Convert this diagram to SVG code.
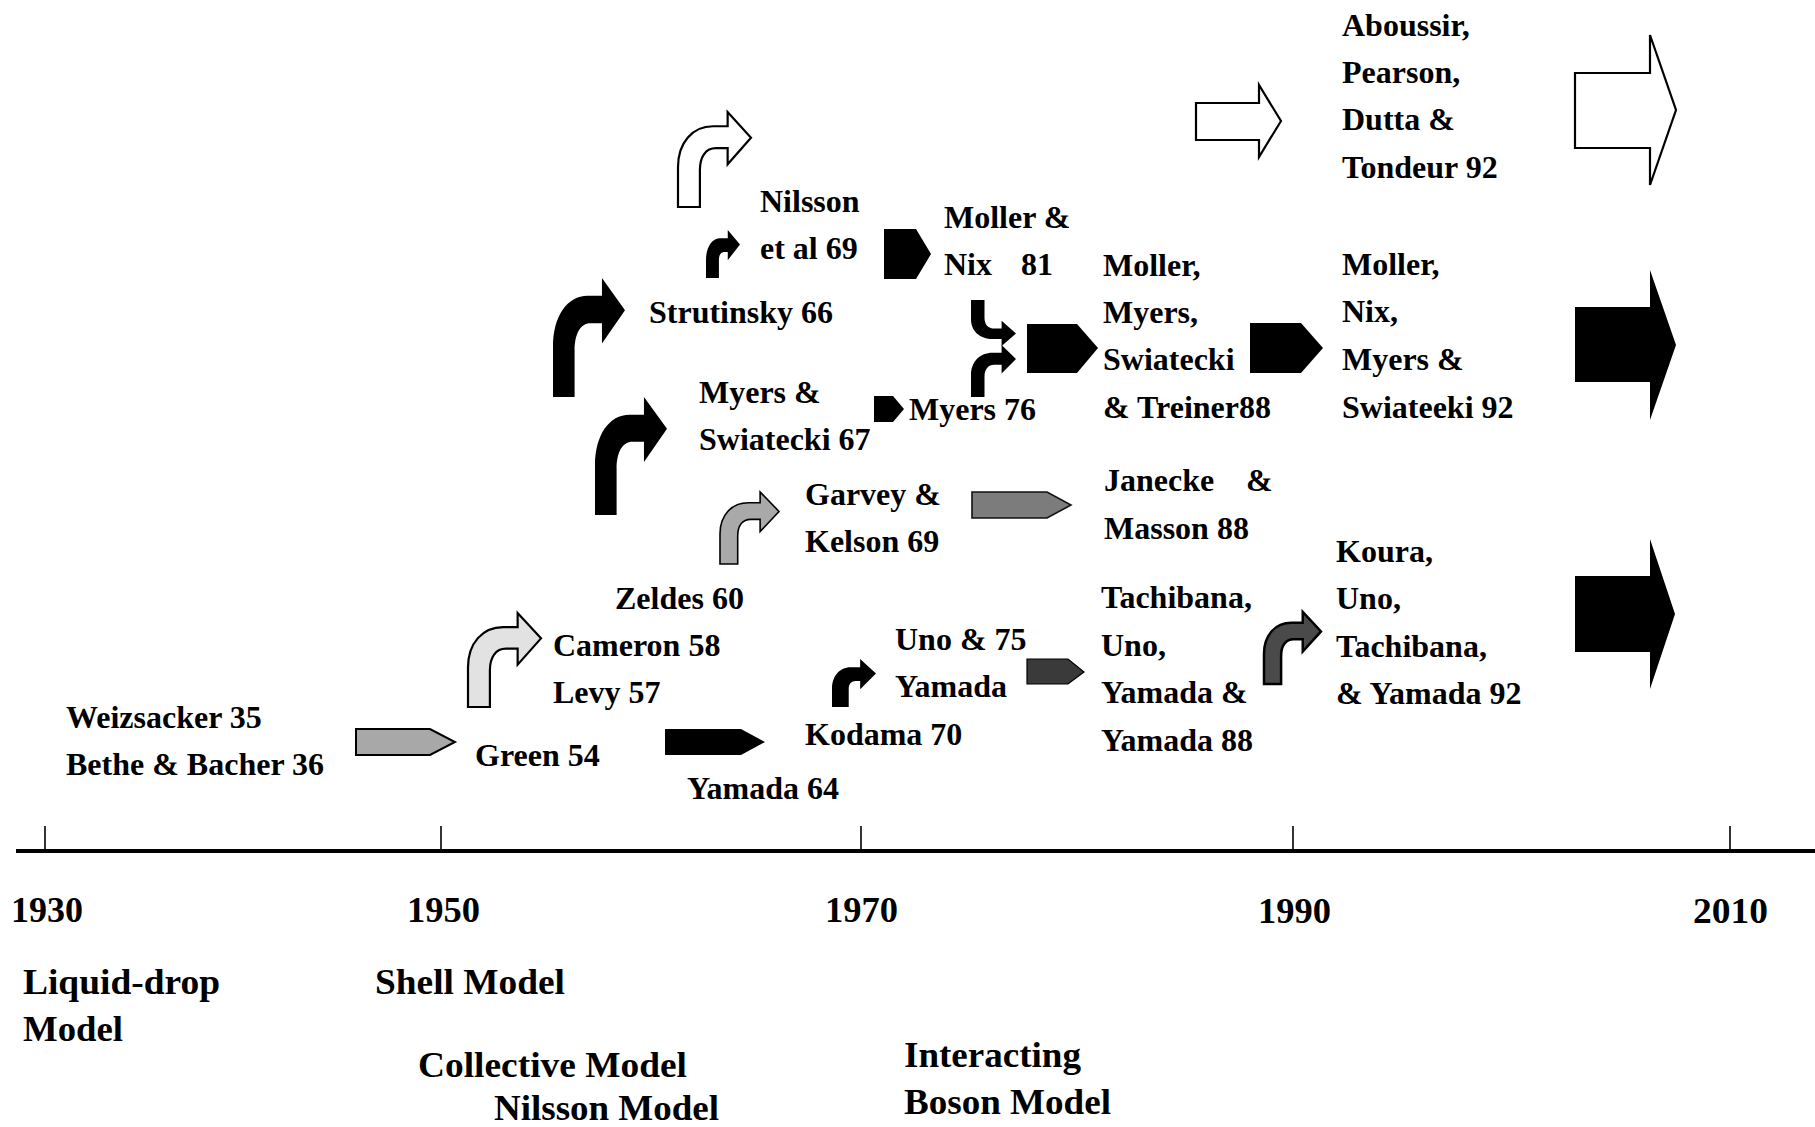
<svg xmlns="http://www.w3.org/2000/svg" xmlns:xlink="http://www.w3.org/1999/xlink" width="1815" height="1127" viewBox="0 0 1815 1127">
<style>
  text { font-family: "Liberation Serif", "Times New Roman", serif; font-weight: bold; fill: #000; }
  .lb { font-size: 32px; }
  .yr { font-size: 35px; }
  .md { font-size: 36px; }
  .blk { fill: #000; }
  .wht { fill: #fff; stroke: #000; stroke-width: 2.2; stroke-linejoin: miter; }
  .axis { stroke: #000; stroke-width: 4; fill: none; }
  .tick { stroke: #000; stroke-width: 1.6; }
</style>
<defs>
  <path id="bend" vector-effect="non-scaling-stroke" d="M0,100 L0,58 C0,32 20,15 48,15 L68,15 L68,0 L100,27 L68,55 L68,38 L52,38 C38,38 30,47 30,61 L30,100 Z"/>
  <path id="bend2" vector-effect="non-scaling-stroke" d="M0,100 L0,62 C0,35 18,17 42,17 L64,17 L64,0 L100,30 L64,63 L64,46 L54,46 C44,46 38,52 38,62 L38,100 Z"/>
</defs>
<rect width="1815" height="1127" fill="#fff"/>

<g id="axis">
  <line class="axis" x1="16" y1="851" x2="1815" y2="851"/>
  <line class="tick" x1="45" y1="826" x2="45" y2="851"/>
  <line class="tick" x1="441" y1="826" x2="441" y2="851"/>
  <line class="tick" x1="861" y1="826" x2="861" y2="851"/>
  <line class="tick" x1="1293" y1="826" x2="1293" y2="851"/>
  <line class="tick" x1="1730" y1="826" x2="1730" y2="851"/>
  <text class="yr" x="11" y="922" textLength="72" lengthAdjust="spacingAndGlyphs">1930</text>
  <text class="yr" x="407" y="922" textLength="73" lengthAdjust="spacingAndGlyphs">1950</text>
  <text class="yr" x="825" y="922" textLength="73" lengthAdjust="spacingAndGlyphs">1970</text>
  <text class="yr" x="1258" y="923" textLength="73" lengthAdjust="spacingAndGlyphs">1990</text>
  <text class="yr" x="1693" y="923" textLength="75" lengthAdjust="spacingAndGlyphs">2010</text>
</g>

<g id="models">
  <text class="md" x="23" y="994" textLength="197" lengthAdjust="spacingAndGlyphs">Liquid-drop</text>
  <text class="md" x="23" y="1041" textLength="100" lengthAdjust="spacingAndGlyphs">Model</text>
  <text class="md" x="375" y="994" textLength="190" lengthAdjust="spacingAndGlyphs">Shell Model</text>
  <text class="md" x="418" y="1077" textLength="269" lengthAdjust="spacingAndGlyphs">Collective Model</text>
  <text class="md" x="494" y="1120" textLength="225" lengthAdjust="spacingAndGlyphs">Nilsson Model</text>
  <text class="md" x="904" y="1067" textLength="177" lengthAdjust="spacingAndGlyphs">Interacting</text>
  <text class="md" x="904" y="1114" textLength="207" lengthAdjust="spacingAndGlyphs">Boson Model</text>
</g>

<g id="node-weizsacker"><text class="lb" x="66" y="728">Weizsacker 35</text><text class="lb" x="66" y="775">Bethe &amp; Bacher 36</text></g>
<g id="node-green"><text class="lb" x="475" y="766">Green 54</text></g>
<g id="node-yamada64"><text class="lb" x="687" y="799">Yamada 64</text></g>
<g id="node-cameron"><text class="lb" x="553" y="656">Cameron 58</text><text class="lb" x="553" y="703">Levy 57</text></g>
<g id="node-zeldes"><text class="lb" x="615" y="609">Zeldes 60</text></g>
<g id="node-garvey"><text class="lb" x="805" y="505">Garvey &amp;</text><text class="lb" x="805" y="552">Kelson 69</text></g>
<g id="node-myersswiatecki"><text class="lb" x="699" y="403">Myers &amp;</text><text class="lb" x="699" y="450">Swiatecki 67</text></g>
<g id="node-strutinsky"><text class="lb" x="649" y="323">Strutinsky 66</text></g>
<g id="node-nilsson"><text class="lb" x="760" y="212">Nilsson</text><text class="lb" x="760" y="259">et al 69</text></g>
<g id="node-mollernix"><text class="lb" x="944" y="228">Moller &amp;</text><text class="lb" x="944" y="275">Nix</text><text class="lb" x="1021" y="275">81</text></g>
<g id="node-myers76"><text class="lb" x="909" y="420">Myers 76</text></g>
<g id="node-uno75"><text class="lb" x="895" y="650">Uno &amp; 75</text><text class="lb" x="895" y="697">Yamada</text></g>
<g id="node-kodama"><text class="lb" x="805" y="745">Kodama 70</text></g>
<g id="node-mmst88"><text class="lb" x="1103" y="276">Moller,</text><text class="lb" x="1103" y="323">Myers,</text><text class="lb" x="1103" y="370">Swiatecki</text><text class="lb" x="1103" y="418">&amp; Treiner88</text></g>
<g id="node-janecke"><text class="lb" x="1104" y="491">Janecke</text><text class="lb" x="1246" y="491">&amp;</text><text class="lb" x="1104" y="539">Masson 88</text></g>
<g id="node-tuyy88"><text class="lb" x="1101" y="608">Tachibana,</text><text class="lb" x="1101" y="656">Uno,</text><text class="lb" x="1101" y="703">Yamada &amp;</text><text class="lb" x="1101" y="751">Yamada 88</text></g>
<g id="node-apdt92"><text class="lb" x="1342" y="36">Aboussir,</text><text class="lb" x="1342" y="83">Pearson,</text><text class="lb" x="1342" y="130">Dutta &amp;</text><text class="lb" x="1342" y="178">Tondeur 92</text></g>
<g id="node-mnms92"><text class="lb" x="1342" y="275">Moller,</text><text class="lb" x="1342" y="322">Nix,</text><text class="lb" x="1342" y="370">Myers &amp;</text><text class="lb" x="1342" y="418">Swiateeki 92</text></g>
<g id="node-kuty92"><text class="lb" x="1336" y="562">Koura,</text><text class="lb" x="1336" y="609">Uno,</text><text class="lb" x="1336" y="657">Tachibana,</text><text class="lb" x="1336" y="704">&amp; Yamada 92</text></g>

<g id="connectors">
  <!-- bent arrows -->
  <use xlink:href="#bend" class="wht" transform="translate(678,112) scale(0.73,0.95)"/>
  <use xlink:href="#bend2" class="blk" transform="translate(706,230) scale(0.34,0.48)"/>
  <use xlink:href="#bend" class="blk" transform="translate(553,278) scale(0.72,1.19)"/>
  <use xlink:href="#bend" class="blk" transform="translate(595,397) scale(0.72,1.18)"/>
  <use xlink:href="#bend" fill="#a9a9a9" stroke="#000" stroke-width="1.6" transform="translate(720,492) scale(0.59,0.72)"/>
  <use xlink:href="#bend" fill="#e2e2e2" stroke="#000" stroke-width="2.2" transform="translate(468,613) scale(0.73,0.94)"/>
  <use xlink:href="#bend2" class="blk" transform="translate(832,659) scale(0.44,0.48)"/>
  <use xlink:href="#bend" fill="#4a4a4a" stroke="#000" stroke-width="2.5" transform="translate(1264,612) scale(0.57,0.72)"/>
  <use xlink:href="#bend" class="blk" transform="translate(971,346) scale(0.45,-0.46)"/>
  <use xlink:href="#bend" class="blk" transform="translate(971,345) scale(0.45,0.52)"/>

  <!-- pentagon arrows -->
  <path d="M356,729 L430,729 L455,742 L430,755 L356,755 Z" fill="#a8a8a8" stroke="#000" stroke-width="2"/>
  <path d="M665,729 L741,729 L765,742 L741,755 L665,755 Z" class="blk"/>
  <path d="M972,492 L1047,492 L1071,505 L1047,518 L972,518 Z" fill="#7c7c7c" stroke="#111" stroke-width="1.6"/>
  <path d="M1027,659 L1068,659 L1084,672 L1068,684 L1027,684 Z" fill="#3a3a3a" stroke="#000" stroke-width="1.2"/>
  <path d="M874,396 L893,396 L904,409 L893,422 L874,422 Z" class="blk"/>
  <path d="M884,229 L916,229 L931,254 L916,279 L884,279 Z" class="blk"/>
  <path d="M1027,324 L1077,324 L1098,348 L1077,373 L1027,373 Z" class="blk"/>
  <path d="M1250,323 L1301,323 L1323,348 L1301,373 L1250,373 Z" class="blk"/>

  <!-- block arrows -->
  <path d="M1196,103 L1259,103 L1259,85 L1281,121 L1259,157 L1259,140 L1196,140 Z" class="wht"/>
  <path d="M1575,73 L1650,73 L1650,35 L1676,110 L1650,185 L1650,148 L1575,148 Z" class="wht" stroke-width="2.5"/>
  <path d="M1575,307 L1650,307 L1650,270 L1676,345 L1650,420 L1650,382 L1575,382 Z" class="blk"/>
  <path d="M1575,576 L1650,576 L1650,539 L1675,614 L1650,689 L1650,652 L1575,652 Z" class="blk"/>
</g>
</svg>
